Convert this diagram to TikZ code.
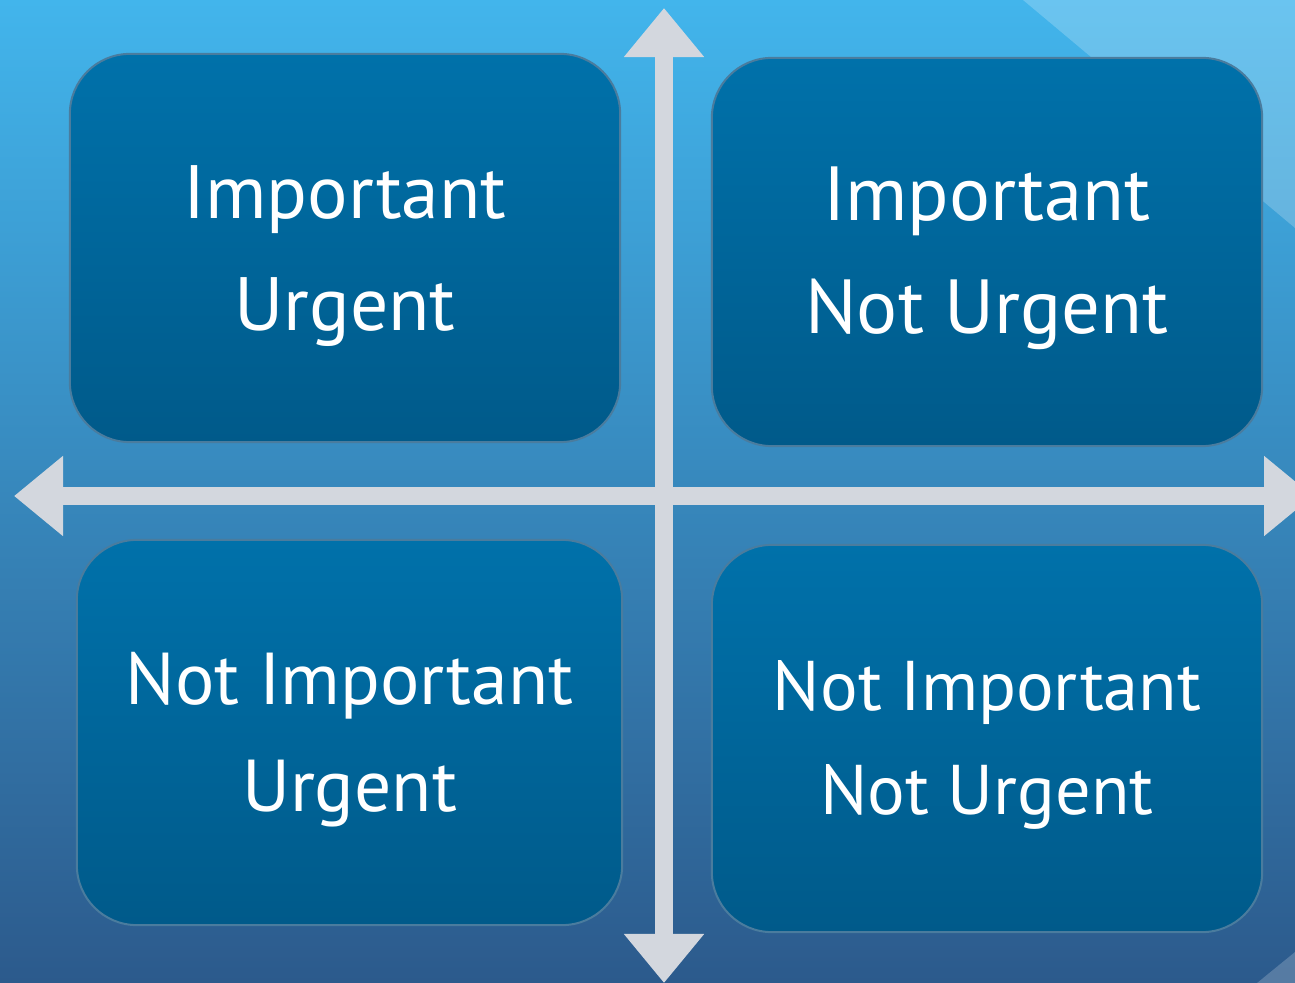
\documentclass[tikz,border=0pt]{standalone}
\usepackage{fontspec}
\setmainfont{PT Sans}
\usetikzlibrary{arrows.meta}
\definecolor{bgtop}{HTML}{42B5EC}
\definecolor{bgmid}{HTML}{3A90C6}
\definecolor{bgbot}{HTML}{2C5A8C}
\definecolor{boxtop}{HTML}{0071AA}
\definecolor{boxbot}{HTML}{005A8A}
\definecolor{boxedge}{HTML}{4A7C9E}
\definecolor{axisfill}{HTML}{D3D7DE}
\begin{document}
\begin{tikzpicture}[x=0.01cm,y=-0.01cm,
  quad/.style={draw=boxedge, line width=0.02cm, rounded corners=0.6cm,
    top color=boxtop, bottom color=boxbot, inner sep=0pt, outer sep=0pt},
  qtext/.style={text=white, align=center, inner sep=0pt},
  axisline/.style={draw=axisfill, line width=0.18cm,
    {Triangle[length=0.49cm,width=0.77cm]}-{Triangle[length=0.49cm,width=0.77cm]}},
]
\useasboundingbox (0,0) rectangle (1295,983);
\clip (0,0) rectangle (1295,983);
\shade[top color=bgtop, middle color=bgmid, bottom color=bgbot] (0,0) rectangle (1295,983);
\fill[white, fill opacity=0.21] (1023,0) -- (1295,0) -- (1295,228) -- cycle;
\fill[white, fill opacity=0.2] (1257,983) -- (1295,983) -- (1295,952) -- cycle;

\node[quad, minimum width=5.5cm, minimum height=3.88cm] (tl) at (345,248) {};
\node[quad, minimum width=5.5cm, minimum height=3.88cm] (tr) at (987,252) {};
\node[quad, minimum width=5.45cm, minimum height=3.85cm] (bl) at (349.5,732.5) {};
\node[quad, minimum width=5.5cm, minimum height=3.87cm] (br) at (987,738.5) {};

\node[qtext, font=\fontsize{21.5}{32}\selectfont] (tltext)
  at ([yshift=-0.08cm]tl.center) {Important\\Urgent};
\node[qtext, font=\fontsize{21.8}{32.2}\selectfont] (trtext)
  at ([yshift=-0.06cm]tr.center) {Important\\Not Urgent};
\node[qtext, font=\fontsize{20.9}{30.4}\selectfont] (bltext)
  at ([yshift=-0.07cm]bl.center) {Not Important\\Urgent};
\node[qtext, font=\fontsize{20}{29.6}\selectfont] (brtext)
  at ([yshift=-0.065cm]br.center) {Not Important\\Not Urgent};

\coordinate (vt) at (664,8);
\coordinate (vb) at (664,983);
\coordinate (hl) at (14,496);
\coordinate (hr) at (1313,496);
\draw[axisline] (vt) -- (vb);
\draw[axisline] (hl) -- (hr);
\end{tikzpicture}
\end{document}
